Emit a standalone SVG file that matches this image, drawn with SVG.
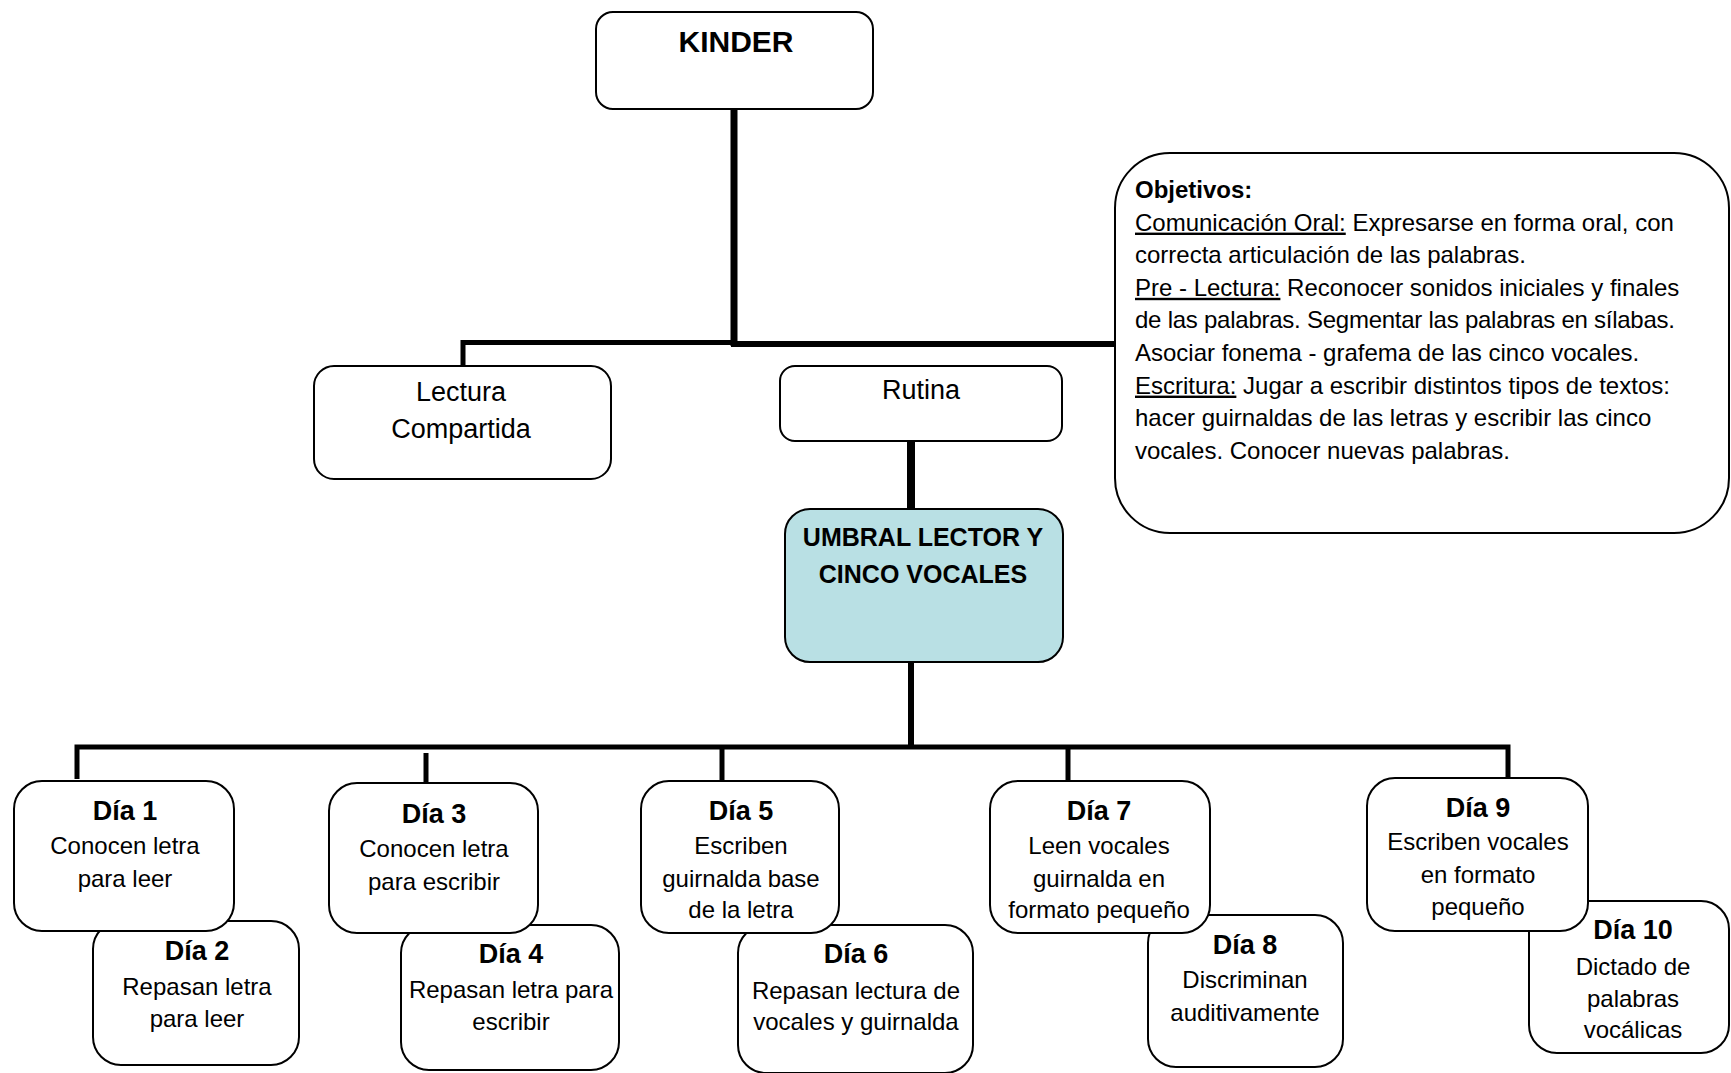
<svg xmlns="http://www.w3.org/2000/svg" width="1731" height="1073" viewBox="0 0 1731 1073">
<style>
.box{fill:#fff;stroke:#000;stroke-width:2}
.blue{fill:#b9e0e4;stroke:#000;stroke-width:2}
.t{font-family:"Liberation Sans",Arial,sans-serif;font-size:24px;fill:#000}
.c{text-anchor:middle}
.b{font-weight:bold}
.h{font-weight:bold;font-size:27px}
.ln{stroke:#000;fill:none;stroke-linecap:butt}
.u{text-decoration:underline}
</style>
<rect width="1731" height="1073" fill="#fff"/>
<g id="connectors">
<line class="ln" x1="734" y1="109" x2="734" y2="346" stroke-width="7"/>
<polyline class="ln" points="463,367 463,342.5 734,342.5" stroke-width="5"/>
<line class="ln" x1="731" y1="344" x2="1116" y2="344" stroke-width="6"/>
<line class="ln" x1="911" y1="441" x2="911" y2="510" stroke-width="8"/>
<line class="ln" x1="911" y1="662" x2="911" y2="749" stroke-width="6"/>
<polyline class="ln" points="77,779 77,747 1508,747 1508,778" stroke-width="5"/>
<line class="ln" x1="426" y1="753" x2="426" y2="784" stroke-width="5"/>
<line class="ln" x1="722" y1="747" x2="722" y2="782" stroke-width="5"/>
<line class="ln" x1="1068" y1="747" x2="1068" y2="782" stroke-width="5"/>
</g>
<g id="kinder">
<rect class="box" x="596" y="12" width="277" height="97" rx="17"/>
<text class="t c b" x="736" y="52" style="font-size:30px">KINDER</text>
</g>
<g id="lectura">
<rect class="box" x="314" y="366" width="297" height="113" rx="20"/>
<text class="t c" x="461" y="401" style="font-size:27px">Lectura</text>
<text class="t c" x="461" y="438" style="font-size:27px">Compartida</text>
</g>
<g id="rutina">
<rect class="box" x="780" y="366" width="282" height="75" rx="15"/>
<text class="t c" x="921" y="399" style="font-size:27px">Rutina</text>
</g>
<g id="objetivos">
<rect class="box" x="1115" y="153" width="614" height="380" rx="55"/>
<text class="t b" x="1135" y="198">Objetivos:</text>
<text class="t" x="1135" y="230.6"><tspan class="u">Comunicación Oral:</tspan> Expresarse en forma oral, con</text>
<text class="t" x="1135" y="263.2">correcta articulación de las palabras.</text>
<text class="t" x="1135" y="295.8"><tspan class="u">Pre - Lectura:</tspan> Reconocer sonidos iniciales y finales</text>
<text class="t" x="1135" y="328.4" textLength="540">de las palabras. Segmentar las palabras en sílabas.</text>
<text class="t" x="1135" y="361">Asociar fonema - grafema de las cinco vocales.</text>
<text class="t" x="1135" y="393.6"><tspan class="u">Escritura:</tspan> Jugar a escribir distintos tipos de textos:</text>
<text class="t" x="1135" y="426.2">hacer guirnaldas de las letras y escribir las cinco</text>
<text class="t" x="1135" y="458.8">vocales. Conocer nuevas palabras.</text>
</g>
<g id="umbral">
<rect class="blue" x="785" y="509" width="278" height="153" rx="25"/>
<text class="t c b" x="923" y="546" style="font-size:25px">UMBRAL LECTOR Y</text>
<text class="t c b" x="923" y="583" style="font-size:25px">CINCO VOCALES</text>
</g>
<g id="dia2">
<rect class="box" x="93" y="921" width="206" height="144" rx="28"/>
<text class="t c h" x="197" y="960">Día 2</text>
<text class="t c" x="197" y="995">Repasan letra</text>
<text class="t c" x="197" y="1027">para leer</text>
</g>
<g id="dia1">
<rect class="box" x="14" y="781" width="220" height="150" rx="28"/>
<text class="t c h" x="125" y="820">Día 1</text>
<text class="t c" x="125" y="854">Conocen letra</text>
<text class="t c" x="125" y="887">para leer</text>
</g>
<g id="dia4">
<rect class="box" x="401" y="925" width="218" height="145" rx="28"/>
<text class="t c h" x="511" y="963">Día 4</text>
<text class="t c" x="511" y="998">Repasan letra para</text>
<text class="t c" x="511" y="1030">escribir</text>
</g>
<g id="dia3">
<rect class="box" x="329" y="783" width="209" height="150" rx="28"/>
<text class="t c h" x="434" y="823">Día 3</text>
<text class="t c" x="434" y="857">Conocen letra</text>
<text class="t c" x="434" y="890">para escribir</text>
</g>
<g id="dia6">
<rect class="box" x="738" y="925" width="235" height="148" rx="28"/>
<text class="t c h" x="856" y="963">Día 6</text>
<text class="t c" x="856" y="999">Repasan lectura de</text>
<text class="t c" x="856" y="1030">vocales y guirnalda</text>
</g>
<g id="dia5">
<rect class="box" x="641" y="781" width="198" height="152" rx="28"/>
<text class="t c h" x="741" y="820">Día 5</text>
<text class="t c" x="741" y="854">Escriben</text>
<text class="t c" x="741" y="887">guirnalda base</text>
<text class="t c" x="741" y="918">de la letra</text>
</g>
<g id="dia8">
<rect class="box" x="1148" y="915" width="195" height="152" rx="28"/>
<text class="t c h" x="1245" y="954">Día 8</text>
<text class="t c" x="1245" y="988">Discriminan</text>
<text class="t c" x="1245" y="1021">auditivamente</text>
</g>
<g id="dia7">
<rect class="box" x="990" y="781" width="220" height="152" rx="28"/>
<text class="t c h" x="1099" y="820">Día 7</text>
<text class="t c" x="1099" y="854">Leen vocales</text>
<text class="t c" x="1099" y="887">guirnalda en</text>
<text class="t c" x="1099" y="918">formato pequeño</text>
</g>
<g id="dia10">
<rect class="box" x="1529" y="901" width="200" height="152" rx="28"/>
<text class="t c h" x="1633" y="939">Día 10</text>
<text class="t c" x="1633" y="975">Dictado de</text>
<text class="t c" x="1633" y="1007">palabras</text>
<text class="t c" x="1633" y="1038">vocálicas</text>
</g>
<g id="dia9">
<rect class="box" x="1367" y="778" width="221" height="153" rx="28"/>
<text class="t c h" x="1478" y="817">Día 9</text>
<text class="t c" x="1478" y="850">Escriben vocales</text>
<text class="t c" x="1478" y="883">en formato</text>
<text class="t c" x="1478" y="915">pequeño</text>
</g>
</svg>
